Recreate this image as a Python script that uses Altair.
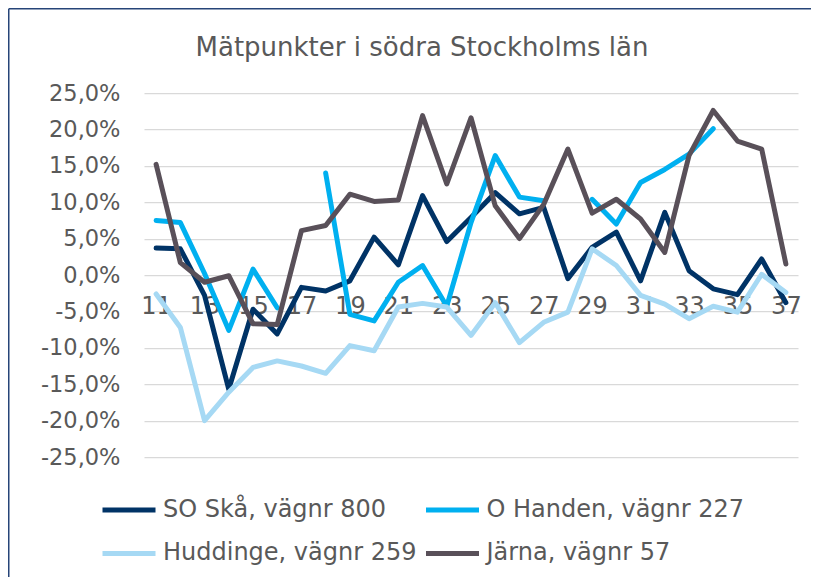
import altair as alt
import pandas as pd

# --- data (percent change per week) ---
weeks = list(range(11, 38))
series_names = ["SO Skå, vägnr 800", "O Handen, vägnr 227", "Huddinge, vägnr 259", "Järna, vägnr 57"]
series_colors = ["#003366", "#00B0F0", "#A6D9F4", "#595059"]
# legend is filled column by column: SO Skå, Huddinge | O Handen, Järna
legend_order = [0, 2, 1, 3]

so_ska = [3.7, 3.6, -2.8, -15.7, -4.7, -8.1, -1.7, -2.2, -0.8, 5.2, 1.4, 10.9, 4.6, 7.9,
          11.3, 8.4, 9.3, -0.5, 3.8, 5.9, -0.8, 8.6, 0.6, -1.9, -2.7, 2.2, -3.8]
o_handen = [7.5, 7.2, 0.2, -7.6, 0.8, -4.5, None, 14.0, -5.4, -6.3, -1.0, 1.3, -4.3, 7.2,
            16.4, 10.7, 10.2, None, 10.4, 7.0, 12.7, 14.5, 16.6, 20.1, None, None, None]
huddinge = [-2.6, -7.2, -20.0, -16.1, -12.7, -11.8, -12.5, -13.5, -9.7, -10.4, -4.4, -3.9, -4.4, -8.3,
            -3.8, -9.3, -6.5, -5.1, 3.6, 1.3, -2.8, -4.0, -6.0, -4.3, -5.1, 0.1, -2.4]
jarna = [15.2, 1.7, -1.0, -0.1, -6.7, -6.8, 6.1, 6.8, 11.1, 10.1, 10.3, 21.9, 12.5, 21.6,
         9.5, 5.0, 9.7, 17.3, 8.5, 10.4, 7.7, 3.1, 16.4, 22.6, 18.4, 17.3, 1.5]

x_ticks = list(range(11, 38, 2))
y_ticks = [-25, -20, -15, -10, -5, 0, 5, 10, 15, 20, 25]
title_text = "Mätpunkter i södra Stockholms län"

rows = []
for name, vals in zip(series_names, [so_ska, o_handen, huddinge, jarna]):
    for w, v in zip(weeks, vals):
        rows.append({"vecka": w, "serie": name, "varde": v})
df = pd.DataFrame(rows)

W, H = 654, 364
PAD = {"left": 136, "top": 85, "right": 13, "bottom": 120}
FONT = "DejaVu Sans"
TXT = "#595959"
FRAME = "#264478"

dom = [series_names[i] for i in legend_order]
rng = [series_colors[i] for i in legend_order]

lines = alt.Chart(df).mark_line(strokeWidth=5, strokeJoin="round", strokeCap="round").encode(
    x=alt.X("vecka:Q",
            scale=alt.Scale(domain=[10.5, 37.5], nice=False, zero=False),
            axis=alt.Axis(values=x_ticks, title=None, grid=False, domain=False, ticks=False,
                          tickSize=0, offset=-182, labelPadding=19, labelFontSize=24,
                          labelColor=TXT, labelFont=FONT, labelFlush=False, labelOverlap=False)),
    y=alt.Y("varde:Q",
            scale=alt.Scale(domain=[-25, 25], nice=False, zero=False),
            axis=alt.Axis(values=y_ticks, title=None, domain=False, ticks=False, tickSize=0,
                          labelPadding=24, labelFontSize=22.5, labelColor=TXT, labelFont=FONT,
                          labelExpr="(datum.value < 0 ? '-' : '') + replace(format(abs(datum.value), '.1f'), '.', ',') + '%'",
                          gridColor="#D9D9D9", gridWidth=1.25)),
    color=alt.Color("serie:N",
                    scale=alt.Scale(domain=dom, range=rng),
                    legend=alt.Legend(title=None, orient="none", legendX=-44, legendY=388,
                                      columns=2, symbolType="stroke", symbolSize=2809,
                                      symbolStrokeWidth=5, labelFontSize=24, labelFont=FONT,
                                      labelColor=TXT, labelOffset=5, columnPadding=-1.5,
                                      rowPadding=2.4, padding=0, labelLimit=400)),
)

# chart-area frame: only the left and top edges are inside the picture
frame_left = alt.Chart(alt.Data(values=[{"a": 1}])).mark_rule(
    stroke=FRAME, strokeWidth=1.5
).encode(x=alt.value(-135.25), y=alt.value(-84.25), y2=alt.value(H + 120))
frame_top = alt.Chart(alt.Data(values=[{"a": 1}])).mark_rule(
    stroke=FRAME, strokeWidth=1.5
).encode(x=alt.value(-135.25), x2=alt.value(W + 13), y=alt.value(-84.25))

chart = alt.layer(frame_left, frame_top, lines).properties(
    width=W, height=H,
    title=alt.TitleParams(title_text, fontSize=26, font=FONT, fontWeight="normal", color=TXT,
                          anchor="middle", frame="group", dx=-49, offset=-74, baseline="alphabetic"),
    autosize=alt.AutoSizeParams(type="none"),
    padding=PAD,
    background="white",
).configure_view(strokeWidth=0)

chart.save("out.html", embed_options={"renderer": "svg", "actions": False})
